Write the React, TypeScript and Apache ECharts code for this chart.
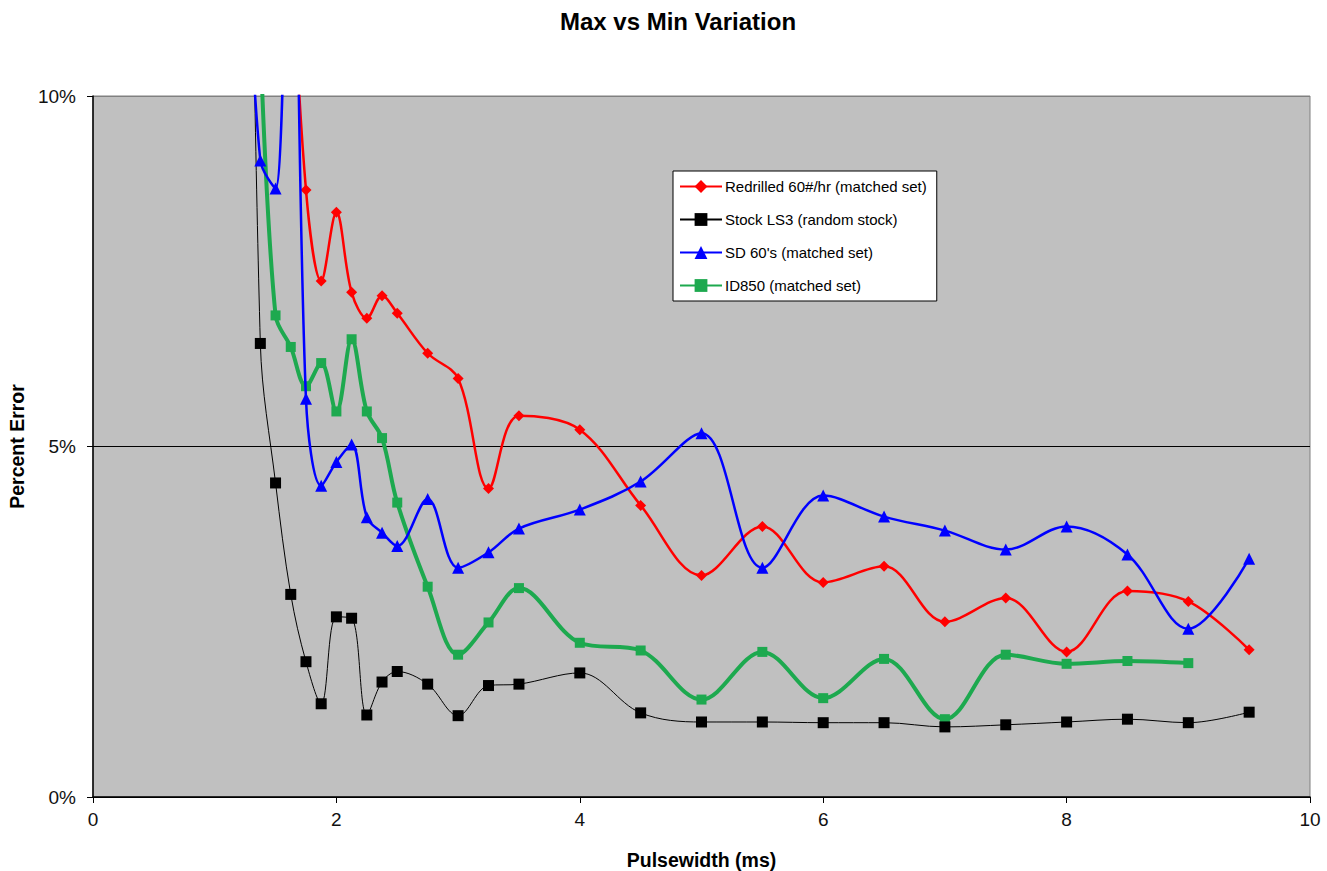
import React, { useEffect, useRef } from "react";
import * as echarts from "echarts";

const titleText = "Max vs Min Variation";
const xAxisName = "Pulsewidth (ms)";
const yAxisName = "Percent Error";

const redName = "Redrilled 60#/hr (matched set)";
const blackName = "Stock LS3 (random stock)";
const blueName = "SD 60's (matched set)";
const greenName = "ID850 (matched set)";

const redPw = [1.625, 1.75, 1.875, 2, 2.125, 2.25, 2.375, 2.5, 2.75, 3, 3.25, 3.5, 4, 4.5, 5, 5.5, 6, 6.5, 7, 7.5, 8, 8.5, 9, 9.5];
const redVals = [12.5, 8.66, 7.36, 8.34, 7.2, 6.83, 7.15, 6.9, 6.33, 5.97, 4.4, 5.44, 5.24, 4.16, 3.16, 3.86, 3.06, 3.29, 2.5, 2.84, 2.07, 2.94, 2.79, 2.1];

const blackPw = [1.25, 1.375, 1.5, 1.625, 1.75, 1.875, 2, 2.125, 2.25, 2.375, 2.5, 2.75, 3, 3.25, 3.5, 4, 4.5, 5, 5.5, 6, 6.5, 7, 7.5, 8, 8.5, 9, 9.5];
const blackVals = [20, 6.47, 4.48, 2.89, 1.93, 1.33, 2.57, 2.55, 1.17, 1.64, 1.79, 1.61, 1.16, 1.59, 1.61, 1.77, 1.2, 1.07, 1.07, 1.06, 1.06, 1.0, 1.03, 1.07, 1.11, 1.06, 1.21];

const bluePw = [1.25, 1.375, 1.5, 1.625, 1.75, 1.875, 2, 2.125, 2.25, 2.375, 2.5, 2.75, 3, 3.25, 3.5, 4, 4.5, 5, 5.5, 6, 6.5, 7, 7.5, 8, 8.5, 9, 9.5];
const blueVals = [13, 9.08, 8.68, 15, 5.68, 4.44, 4.78, 5.03, 3.99, 3.77, 3.58, 4.25, 3.27, 3.49, 3.83, 4.1, 4.5, 5.19, 3.27, 4.3, 4.0, 3.8, 3.53, 3.86, 3.46, 2.4, 3.4];

const greenPw = [1.375, 1.5, 1.625, 1.75, 1.875, 2, 2.125, 2.25, 2.375, 2.5, 2.75, 3, 3.25, 3.5, 4, 4.5, 5, 5.5, 6, 6.5, 7, 7.5, 8, 8.5, 9];
const greenVals = [10.8, 6.87, 6.42, 5.86, 6.19, 5.5, 6.53, 5.5, 5.12, 4.2, 3.0, 2.03, 2.49, 2.98, 2.2, 2.09, 1.39, 2.07, 1.41, 1.97, 1.11, 2.03, 1.9, 1.94, 1.91];

const yTicks = [0, 5, 10];

const zip = (xs: number[], ys: number[]) => xs.map((x, i) => [x, ys[i]]);

const FONT = "'Liberation Sans', Arial, sans-serif";

export default function App() {
  const ref = useRef<HTMLDivElement>(null);
  useEffect(() => {
    if (!ref.current) return;
    const chart = echarts.init(ref.current, null, { renderer: "svg" });
    const smooth = 0.35;
    chart.setOption({
      animation: false,
      backgroundColor: "#ffffff",
      textStyle: { fontFamily: FONT },
      title: {
        text: titleText,
        left: 673,
        top: 4,
        textAlign: "center",
        textStyle: { fontFamily: FONT, fontSize: 24, fontWeight: "bold", color: "#000" },
      },
      grid: {
        left: 93,
        top: 96,
        right: 17,
        bottom: 74,
        containLabel: false,
        outerBoundsMode: "none",
        show: true,
        backgroundColor: "#C0C0C0",
        borderColor: "#808080",
        borderWidth: 1,
      },
      legend: {
        orient: "vertical",
        left: 673,
        top: 171,
        width: 262,
        padding: [8, 10, 8, 6],
        itemGap: 18,
        itemWidth: 42,
        itemHeight: 16,
        backgroundColor: "#ffffff",
        borderColor: "#000",
        borderWidth: 1,
        borderRadius: 0,
        textStyle: { fontFamily: FONT, fontSize: 15, color: "#000", padding: [0, 0, 0, -2] },
        data: [redName, blackName, blueName, greenName],
      },
      xAxis: {
        type: "value",
        min: 0,
        max: 10,
        interval: 2,
        name: xAxisName,
        nameLocation: "middle",
        nameGap: 53,
        nameTextStyle: { fontFamily: FONT, fontSize: 19.5, fontWeight: "bold", color: "#000" },
        axisLine: { show: true, onZero: false, lineStyle: { color: "#000", width: 1.5 } },
        axisTick: { show: true, inside: false, length: 6, lineStyle: { color: "#000" } },
        axisLabel: { fontFamily: FONT, fontSize: 19, color: "#111", margin: 13 },
        splitLine: { show: false },
      },
      yAxis: {
        type: "value",
        min: 0,
        max: 10,
        interval: 5,
        name: yAxisName,
        nameLocation: "middle",
        nameGap: 66,
        nameTextStyle: { fontFamily: FONT, fontSize: 19.5, fontWeight: "bold", color: "#000" },
        axisLine: { show: true, onZero: false, lineStyle: { color: "#000", width: 1.5 } },
        axisTick: { show: true, inside: false, length: 6, lineStyle: { color: "#000" } },
        axisLabel: {
          fontFamily: FONT,
          fontSize: 19,
          color: "#111",
          margin: 17,
          formatter: (v: number) => (yTicks.includes(v) ? v + "%" : ""),
        },
        splitLine: { show: true, lineStyle: { color: ["#000", "#000", "#808080"], width: 1.2 } },
      },
      series: [
        {
          name: redName,
          type: "line",
          data: zip(redPw, redVals),
          smooth,
          clip: true,
          symbol: "diamond",
          symbolSize: 11,
          lineStyle: { color: "#FF0000", width: 2.5 },
          itemStyle: { color: "#FF0000" },
          z: 4,
        },
        {
          name: blackName,
          type: "line",
          data: zip(blackPw, blackVals),
          smooth,
          clip: true,
          symbol: "rect",
          symbolSize: 11,
          lineStyle: { color: "#000000", width: 1 },
          itemStyle: { color: "#000000" },
          z: 3,
        },
        {
          name: blueName,
          type: "line",
          data: zip(bluePw, blueVals),
          smooth,
          clip: true,
          symbol: "triangle",
          symbolSize: 12,
          lineStyle: { color: "#0000FF", width: 2.5 },
          itemStyle: { color: "#0000FF" },
          z: 5,
        },
        {
          name: greenName,
          type: "line",
          data: zip(greenPw, greenVals),
          smooth,
          clip: true,
          symbol: "rect",
          symbolSize: 10,
          lineStyle: { color: "#1DA94F", width: 4 },
          itemStyle: { color: "#1DA94F" },
          z: 2,
        },
      ],
    });
    return () => chart.dispose();
  }, []);
  return (
    <div
      ref={ref}
      style={{ position: "fixed", left: 0, top: 0, width: 1327, height: 871 }}
    />
  );
}
